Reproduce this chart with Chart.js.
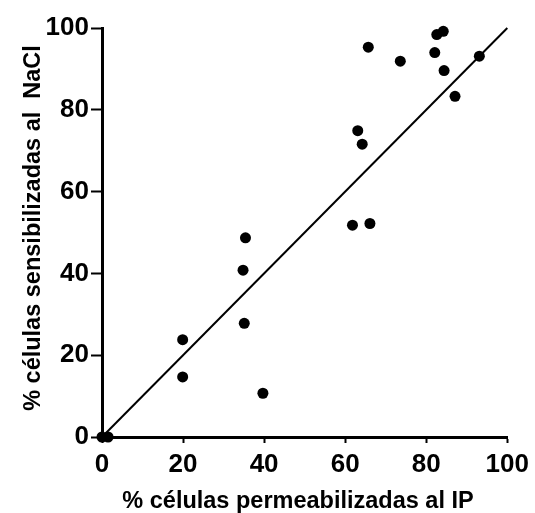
<!DOCTYPE html>
<html>
<head>
<meta charset="utf-8">
<script src="https://cdn.jsdelivr.net/npm/chart.js@4.4.1/dist/chart.umd.min.js"></script>
<style>
  html, body { margin: 0; padding: 0; background: #ffffff; }
  #wrap { width: 535px; height: 513px; }
</style>
</head>
<body>
<div id="wrap"><canvas id="c" width="535" height="513"></canvas></div>
<script>
// Data
const xPermeabilizadas = [0, 1.5, 19.9, 19.9, 35.1, 34.8, 35.4, 39.7, 61.8, 66.1, 63.1, 64.2, 65.7, 73.6, 82.1, 82.6, 84.2, 84.4, 87.1, 93.1];
const ySensibilizadas = [0, 0, 23.8, 14.7, 27.8, 40.8, 48.7, 10.7, 51.8, 52.2, 74.9, 71.6, 95.3, 91.9, 94.0, 98.4, 99.2, 89.6, 83.3, 93.1];
const identityX = [0, 100];
const identityY = [0, 100];
const xTitle = '% células permeabilizadas al IP';
const yTitle = '% células sensibilizadas al  NaCl';
const axisMin = 0, axisMax = 100, axisStep = 20;

const FONT = '"Liberation Sans", Arial, Helvetica, sans-serif';

const pointsData = xPermeabilizadas.map((x, i) => ({ x: x, y: ySensibilizadas[i] }));
const lineData = identityX.map((x, i) => ({ x: x, y: identityY[i] }));

const titlePlugin = {
  id: 'axisTitles',
  afterDraw(chart) {
    const ctx = chart.ctx;
    ctx.save();
    ctx.fillStyle = '#000';
    ctx.font = 'bold 23.5px ' + FONT;
    ctx.textAlign = 'center';
    ctx.textBaseline = 'alphabetic';
    ctx.fillText(xTitle, 298, 508);
    ctx.translate(40, 228);
    ctx.rotate(-Math.PI / 2);
    ctx.fillText(yTitle, 0, 0);
    ctx.restore();
  }
};

new Chart(document.getElementById('c'), {
  type: 'scatter',
  data: {
    datasets: [
      {
        data: lineData,
        showLine: true,
        borderColor: '#000',
        borderWidth: 2,
        pointRadius: 0,
        fill: false,
        clip: false
      },
      {
        data: pointsData,
        backgroundColor: '#000',
        borderColor: '#000',
        borderWidth: 0,
        pointRadius: 5.5,
        clip: false
      }
    ]
  },
  options: {
    responsive: false,
    animation: false,
    layout: { padding: { top: 28, right: 27, left: 0, bottom: 0 } },
    plugins: { legend: { display: false }, tooltip: { enabled: false } },
    scales: {
      x: {
        type: 'linear',
        min: axisMin, max: axisMax,
        afterFit(scale) { scale.height = 76; },
        ticks: { stepSize: axisStep, color: '#000', font: { family: FONT, size: 26, weight: 'bold' }, padding: 6, maxRotation: 0 },
        grid: { drawOnChartArea: false, drawTicks: true, tickLength: 6, tickWidth: 2, tickColor: '#000' },
        border: { display: true, color: '#000', width: 3 }
      },
      y: {
        type: 'linear',
        min: axisMin, max: axisMax,
        afterFit(scale) { scale.width = 102; },
        ticks: { stepSize: axisStep, color: '#000', font: { family: FONT, size: 26, weight: 'bold' }, padding: 2 },
        grid: { drawOnChartArea: false, drawTicks: true, tickLength: 11, tickWidth: 2, tickColor: '#000' },
        border: { display: true, color: '#000', width: 3 }
      }
    }
  },
  plugins: [titlePlugin]
});
</script>
</body>
</html>
